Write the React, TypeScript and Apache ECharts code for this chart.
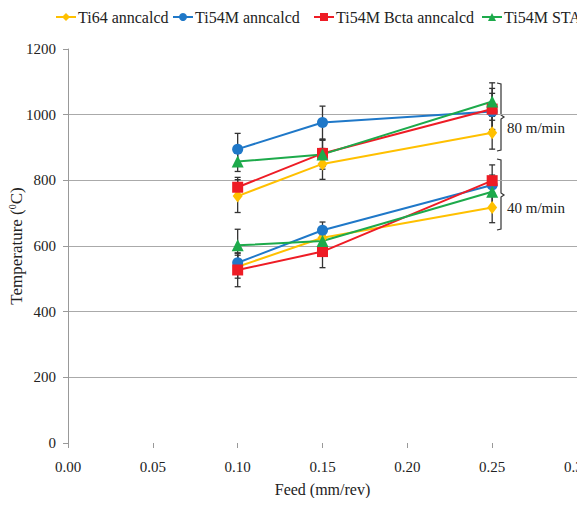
import React, { useEffect, useRef } from "react";
import * as echarts from "echarts";

const feeds = [0.1, 0.15, 0.25];
const xTicks = [0, 0.05, 0.1, 0.15, 0.2, 0.25, 0.3];

const ti64_80 = [752, 850, 945];
const ti64_40 = [537, 625, 717];
const ti54m_80 = [895, 976, 1010];
const ti54m_40 = [549, 648, 786];
const beta_80 = [779, 882, 1017];
const beta_40 = [527, 583, 799];
const sta_80 = [857, 879, 1040];
const sta_40 = [602, 615, 765];

const ti64_80_err = [50, 47, 50];
const ti64_40_err = [35, 30, 46];
const ti54m_80_err = [48, 50, 55];
const ti54m_40_err = [30, 25, 30];
const beta_80_err = [30, 40, 63];
const beta_40_err = [51, 49, 48];
const sta_80_err = [30, 45, 57];
const sta_40_err = [49, 30, 45];

const names = ["Ti64 anncalcd", "Ti54M anncalcd", "Ti54M Bcta anncalcd", "Ti54M STA"];
const colors = ["#FFC000", "#1F78C8", "#EE1C25", "#1DAA4B"];
const symbols = ["diamond", "circle", "rect", "triangle"];
const symbolSizes: any[] = [[10, 13], 11, 11, 12];

const groups80 = [ti64_80, ti54m_80, beta_80, sta_80];
const groups40 = [ti64_40, ti54m_40, beta_40, sta_40];
const errs80 = [ti64_80_err, ti54m_80_err, beta_80_err, sta_80_err];
const errs40 = [ti64_40_err, ti54m_40_err, beta_40_err, sta_40_err];

const legendLefts = [55, 172, 313, 481];

const FONT = "Liberation Serif, Times New Roman, Times, DejaVu Serif, serif";

export default function App() {
  const ref = useRef<HTMLDivElement>(null);
  useEffect(() => {
    if (!ref.current) return;
    const chart = echarts.init(ref.current, undefined, { renderer: "svg" });

    const errData: any[] = [];
    [groups80, groups40].forEach((grp, gi) => {
      const errs = gi === 0 ? errs80 : errs40;
      grp.forEach((vals, si) => {
        vals.forEach((v, i) => errData.push([feeds[i], v, errs[si][i]]));
      });
    });

    const lineSeries: any[] = [];
    [groups80, groups40].forEach((grp) => {
      grp.forEach((vals, si) => {
        lineSeries.push({
          type: "line",
          name: names[si],
          data: vals.map((v, i) => [feeds[i], v]),
          symbol: symbols[si],
          symbolSize: symbolSizes[si],
          itemStyle: { color: colors[si] },
          lineStyle: { color: colors[si], width: 2 },
          z: 3,
        });
      });
    });

    const option: any = {
      animation: false,
      color: colors,
      textStyle: { fontFamily: FONT },
      legend: names.map((n, i) => ({
        data: [n],
        top: 9,
        left: legendLefts[i],
        padding: 0,
        itemWidth: 20,
        itemHeight: 10,
        textStyle: { fontFamily: FONT, fontSize: 16, color: "#222", padding: [0, 0, 0, -3] },
      })),
      grid: { left: 68, right: 8, top: 49, bottom: 63, outerBoundsMode: "none", containLabel: false },
      xAxis: {
        type: "value",
        min: 0,
        max: 0.3,
        interval: 0.05,
        name: "Feed (mm/rev)",
        nameLocation: "middle",
        nameGap: 38,
        nameMoveOverlap: false,
        nameTextStyle: { fontFamily: FONT, fontSize: 16, color: "#222" },
        axisLine: { show: false },
        axisTick: { show: true, length: 5, lineStyle: { color: "#999" } },
        splitLine: { show: false },
        axisLabel: {
          fontFamily: FONT,
          fontSize: 15,
          color: "#222",
          margin: 16,
          formatter: (v: number) => v.toFixed(2),
          customValues: xTicks,
        },
      },
      yAxis: {
        type: "value",
        min: 0,
        max: 1200,
        interval: 200,
        name: "Temperature ({sup|0}C)",
        nameLocation: "middle",
        nameGap: 43,
        nameMoveOverlap: false,
        nameTextStyle: {
          fontFamily: FONT,
          fontSize: 17,
          color: "#222",
          rich: { sup: { fontFamily: FONT, fontSize: 10, color: "#222", verticalAlign: "top", padding: [0, 0, 8, 0] } },
        },
        axisLine: { show: true, lineStyle: { color: "#999" } },
        axisTick: { show: true, length: 5, lineStyle: { color: "#999" } },
        splitLine: { show: true, showMinLine: false, showMaxLine: false, lineStyle: { color: "#aaa", width: 1 } },
        axisLabel: { fontFamily: FONT, fontSize: 15, color: "#222", margin: 12, formatter: (v: number) => String(v) },
      },
      series: [
        {
          type: "custom",
          name: "errors",
          z: 2,
          encode: { x: 0, y: 1 },
          data: errData,
          renderItem: (params: any, api: any) => {
            const x = api.value(0);
            const y = api.value(1);
            const e = api.value(2);
            const top = api.coord([x, y + e]);
            const bot = api.coord([x, y - e]);
            const style = { stroke: "#333", lineWidth: 1.3 };
            return {
              type: "group",
              children: [
                { type: "line", shape: { x1: top[0], y1: top[1], x2: bot[0], y2: bot[1] }, style },
                { type: "line", shape: { x1: top[0] - 3, y1: top[1], x2: top[0] + 3, y2: top[1] }, style },
                { type: "line", shape: { x1: bot[0] - 3, y1: bot[1], x2: bot[0] + 3, y2: bot[1] }, style },
              ],
            };
          },
        },
        ...lineSeries,
      ],
      graphic: [
        {
          type: "polyline",
          shape: { points: [[497, 83], [501, 84], [501, 115], [504, 117], [501, 119], [501, 150], [497, 151]] },
          style: { stroke: "#333", lineWidth: 1.2, fill: "none" },
        },
        {
          type: "polyline",
          shape: { points: [[497, 159], [501, 160], [501, 193], [504, 195], [501, 197], [501, 229], [497, 230]] },
          style: { stroke: "#333", lineWidth: 1.2, fill: "none" },
        },
        {
          type: "text",
          x: 507,
          y: 128,
          style: { text: "80 m/min", fontFamily: FONT, fontSize: 15, fill: "#222", verticalAlign: "middle" },
        },
        {
          type: "text",
          x: 507,
          y: 208,
          style: { text: "40 m/min", fontFamily: FONT, fontSize: 15, fill: "#222", verticalAlign: "middle" },
        },
      ],
    };
    chart.setOption(option);
    return () => chart.dispose();
  }, []);
  return <div ref={ref} style={{ width: 585, height: 506, margin: -8 }} />;
}
